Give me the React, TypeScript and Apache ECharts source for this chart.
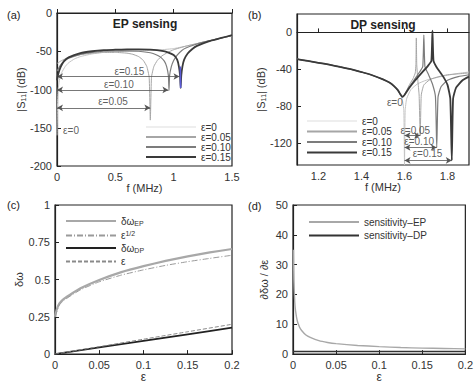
import React, { useEffect, useRef } from 'react';
import * as echarts from 'echarts';

// ---------- shared ----------
const epsNames = ['ε=0', 'ε=0.05', 'ε=0.10', 'ε=0.15'];

// ---------- panel (a): EP sensing, |S11| (dB) vs f (MHz) ----------
const aEps0: number[][] = [[0,-160],[0.005,-115],[0.01,-100],[0.02,-88],[0.04,-78],[0.07,-70],[0.1,-65],[0.15,-60],[0.2,-57],[0.3,-53.5],[0.4,-51.5],[0.5,-50.5],[0.6,-50],[0.7,-49.5],[0.8,-49],[0.9,-48],[1.0,-46.5],[1.1,-43.5],[1.2,-40],[1.3,-36.5],[1.4,-33],[1.5,-29.5]];
const aEps005: number[][] = [[0,-66],[0.03,-63],[0.07,-60],[0.1,-58],[0.2,-54.5],[0.3,-52.5],[0.4,-51.5],[0.5,-51.5],[0.6,-52.5],[0.65,-54],[0.7,-57],[0.74,-62],[0.77,-70],[0.79,-84],[0.8,-140],[0.81,-84],[0.83,-70],[0.86,-62],[0.9,-56],[0.95,-51.5],[1.0,-48],[1.1,-43.5],[1.2,-40],[1.3,-36.5],[1.4,-33],[1.5,-29.5]];
const aEps010: number[][] = [[0,-76],[0.03,-68],[0.07,-62],[0.1,-59],[0.2,-54],[0.3,-51.5],[0.4,-50],[0.5,-49.5],[0.6,-49.5],[0.7,-50],[0.8,-52],[0.85,-54.5],[0.89,-58],[0.92,-63],[0.94,-70],[0.955,-82],[0.96,-101],[0.965,-82],[0.98,-70],[1.0,-62],[1.03,-55],[1.07,-49],[1.1,-46],[1.2,-40.5],[1.3,-36.5],[1.4,-33],[1.5,-29.5]];
const aEps015: number[][] = [[0,-88],[0.01,-80],[0.03,-71],[0.06,-63],[0.1,-58],[0.2,-52.5],[0.3,-50],[0.4,-48.5],[0.5,-48],[0.6,-47.5],[0.7,-47.5],[0.8,-48],[0.9,-49.5],[0.95,-51.5],[1.0,-55],[1.03,-61],[1.045,-70],[1.055,-82],[1.06,-98],[1.065,-82],[1.075,-70],[1.09,-61],[1.12,-53],[1.16,-47],[1.2,-43],[1.3,-37],[1.4,-33],[1.5,-29]];
const aBlueDip: number[][] = [[1.057,-70],[1.06,-98]];
const aAnnoText = ['ε=0.15', 'ε=0.10', 'ε=0.05', 'ε=0'];
const aAnnoF = [0.62, 0.53, 0.48, 0.12];
const aAnnoS = [-77, -94, -116, -153];
const aArrowFrom = [0, 0, 0];
const aArrowTo = [1.05, 0.955, 0.8];
const aArrowS = [-83, -100.5, -124];

// ---------- panel (b): DP sensing ----------
const bEps0: number[][] = [[1.1,-29],[1.15,-31],[1.2,-33],[1.25,-35],[1.3,-37.5],[1.35,-40],[1.4,-43],[1.45,-46.5],[1.5,-51],[1.53,-54.5],[1.55,-58],[1.57,-63],[1.58,-67],[1.59,-73],[1.597,-85],[1.6,-144],[1.603,-85],[1.61,-72],[1.63,-62],[1.66,-56],[1.7,-52],[1.75,-49],[1.8,-46.5],[1.85,-44.5],[1.9,-43]];
const bEps005: number[][] = [[1.1,-29],[1.15,-31],[1.2,-33],[1.25,-35],[1.3,-37.5],[1.35,-40],[1.4,-43],[1.45,-46.5],[1.5,-51],[1.53,-54.5],[1.55,-58],[1.57,-63],[1.58,-67],[1.59,-70],[1.6,-68],[1.62,-58],[1.64,-50],[1.65,-44],[1.653,-35],[1.655,-6],[1.657,-35],[1.662,-52],[1.668,-68],[1.673,-112],[1.678,-68],[1.69,-57],[1.72,-51],[1.76,-48],[1.8,-46],[1.85,-45],[1.9,-44]];
const bEps010: number[][] = [[1.1,-29],[1.15,-31],[1.2,-33],[1.25,-35],[1.3,-37.5],[1.35,-40],[1.4,-43],[1.45,-46.5],[1.5,-51],[1.53,-54.5],[1.55,-58],[1.57,-63],[1.58,-67],[1.59,-70],[1.6,-68],[1.62,-60],[1.65,-50],[1.67,-43],[1.685,-37],[1.69,-3],[1.695,-37],[1.71,-45],[1.73,-56],[1.744,-70],[1.75,-125],[1.756,-70],[1.77,-59],[1.8,-52],[1.85,-48],[1.9,-46]];
const bEps015: number[][] = [[1.1,-29],[1.15,-31],[1.2,-33],[1.25,-35],[1.3,-37.5],[1.35,-40],[1.4,-43],[1.45,-46.5],[1.5,-51],[1.53,-54.5],[1.55,-58],[1.57,-63],[1.58,-67],[1.59,-70],[1.6,-68],[1.62,-61],[1.65,-52],[1.68,-44],[1.71,-36],[1.725,-31],[1.73,2],[1.735,-31],[1.75,-38],[1.78,-48],[1.8,-57],[1.813,-72],[1.82,-139],[1.826,-72],[1.84,-60],[1.87,-52],[1.9,-48]];
const bTicksX = [1.2, 1.4, 1.6, 1.8];
const bTicksY = [-120, -80, -40, 0];
const bAnnoText = ['ε=0', 'ε=0.05', 'ε=0.10', 'ε=0.15'];
const bAnnoF = [1.555, 1.65, 1.668, 1.707];
const bAnnoS = [-76, -106, -119, -132];
const bArrowFrom = [1.6, 1.6, 1.6];
const bArrowTo = [1.673, 1.75, 1.82];
const bArrowS = [-112, -125, -139];

// ---------- panel (c): δω vs ε ----------
const cEP: number[][] = [[0,0.25],[0.002,0.3],[0.005,0.34],[0.01,0.37],[0.02,0.41],[0.03,0.445],[0.05,0.497],[0.075,0.55],[0.1,0.59],[0.125,0.625],[0.15,0.655],[0.175,0.682],[0.2,0.705]];
const cSqrt: number[][] = [[0,0.25],[0.005,0.33],[0.01,0.36],[0.02,0.4],[0.03,0.435],[0.05,0.485],[0.075,0.53],[0.1,0.565],[0.125,0.595],[0.15,0.62],[0.175,0.642],[0.2,0.663]];
const cDP: number[][] = [[0,0],[0.05,0.045],[0.1,0.089],[0.15,0.133],[0.2,0.177]];
const cLin: number[][] = [[0,0],[0.05,0.05],[0.1,0.1],[0.15,0.15],[0.2,0.2]];

// ---------- panel (d): sensitivity ----------
const dEP: number[][] = [[0.0005,35],[0.001,25],[0.002,17.6],[0.003,14.4],[0.005,11.1],[0.0075,9.1],[0.01,7.9],[0.015,6.4],[0.02,5.6],[0.03,4.5],[0.04,3.9],[0.05,3.5],[0.075,2.9],[0.1,2.5],[0.125,2.2],[0.15,2.0],[0.175,1.9],[0.2,1.76]];
const dDP: number[][] = [[0,0.88],[0.05,0.88],[0.1,0.88],[0.15,0.88],[0.2,0.88]];

const FONT = '"Liberation Sans", Arial, Helvetica, sans-serif';
const epsColors = ['#c4c4c4', '#a6a6a6', '#7c7c7c', '#3a3a3a'];
const epsWidths = [1, 1, 1.2, 1.8];

function axisCommon() {
  return {
    axisLine: { show: true, lineStyle: { color: '#222', width: 1.2 } },
    axisTick: { show: true, inside: true, length: 4, lineStyle: { color: '#222' } },
    axisLabel: { fontSize: 11, color: '#333', fontFamily: FONT, margin: 5 },
    splitLine: { show: false },
    nameTextStyle: { fontSize: 11, color: '#333', fontFamily: FONT },
    nameLocation: 'middle' as const,
  };
}

function lineSeries(name: string, data: number[][], xi: number, color: string, width: number, type: any = 'solid', z = 2) {
  return {
    type: 'line', name, data, xAxisIndex: xi, yAxisIndex: xi, showSymbol: false, symbol: 'none',
    lineStyle: { color, width, type }, itemStyle: { color }, smooth: 0.15, z, silent: true,
  };
}

function annoSeries(name: string, xi: number, text: string[], fs: number[], ss: number[], from: number[], to: number[], ys: number[]) {
  return {
    type: 'scatter', name, xAxisIndex: xi, yAxisIndex: xi, symbolSize: 1,
    itemStyle: { color: 'rgba(0,0,0,0)' }, silent: true, z: 5,
    label: { show: true, position: 'inside', formatter: '{b}', fontSize: 10, color: '#333', fontFamily: FONT },
    labelLayout: { hideOverlap: false },
    data: text.map((t, i) => ({ name: t, value: [fs[i], ss[i]] })),
    markLine: {
      silent: true, symbol: ['arrow', 'arrow'], symbolSize: [5, 6], animation: false,
      lineStyle: { color: '#555', width: 0.8, type: 'solid' }, label: { show: false },
      data: from.map((f, i) => [{ coord: [f, ys[i]] }, { coord: [to[i], ys[i]] }]),
    },
  };
}

export default function App() {
  const ref = useRef<HTMLDivElement>(null);
  useEffect(() => {
    if (!ref.current) return;
    const chart = echarts.init(ref.current, undefined, { renderer: 'svg' });
    const grids = [
      { left: 57, top: 13, width: 175, height: 153 },
      { left: 297, top: 14, width: 172, height: 151 },
      { left: 55, top: 205, width: 177, height: 151 },
      { left: 293, top: 205, width: 175, height: 151 },
    ].map((g) => ({ ...g, show: true, borderColor: '#222', borderWidth: 1.2, backgroundColor: 'transparent' }));

    const c = axisCommon;
    const xAxis = [
      { ...c(), gridIndex: 0, type: 'value', min: 0, max: 1.5, interval: 0.5, name: 'f (MHz)', nameGap: 11 },
      { ...c(), gridIndex: 1, type: 'value', min: 1.1, max: 1.9, name: 'f (MHz)', nameGap: 11,
        axisTick: { ...c().axisTick, customValues: bTicksX },
        axisLabel: { ...c().axisLabel, customValues: bTicksX } },
      { ...c(), gridIndex: 2, type: 'value', min: 0, max: 0.2, interval: 0.05, name: 'ε', nameGap: 9,
        nameTextStyle: { fontSize: 12, color: '#333', fontFamily: FONT } },
      { ...c(), gridIndex: 3, type: 'value', min: 0, max: 0.2, interval: 0.05, name: 'ε', nameGap: 9,
        nameTextStyle: { fontSize: 12, color: '#333', fontFamily: FONT } },
    ];
    const yAxis = [
      { ...c(), gridIndex: 0, type: 'value', min: -200, max: 0, interval: 50, name: '|S₁₁| (dB)', nameGap: 31 },
      { ...c(), gridIndex: 1, type: 'value', min: -144, max: 20, name: '|S₁₁| (dB)', nameGap: 27,
        axisTick: { ...c().axisTick, customValues: bTicksY },
        axisLabel: { ...c().axisLabel, customValues: bTicksY } },
      { ...c(), gridIndex: 2, type: 'value', min: 0, max: 1, interval: 0.25, name: 'δω', nameGap: 28 },
      { ...c(), gridIndex: 3, type: 'value', min: 0, max: 50, interval: 10, name: '∂δω / ∂ε', nameGap: 24 },
    ];

    const aData = [aEps0, aEps005, aEps010, aEps015];
    const bData = [bEps0, bEps005, bEps010, bEps015];
    const series: any[] = [];
    aData.forEach((d, i) => series.push(lineSeries(epsNames[i], d, 0, epsColors[i], epsWidths[i], 'solid', 2 + i)));
    series.push({ ...lineSeries('blue-dip', aBlueDip, 0, '#5b5bd6', 1.6, 'solid', 7), smooth: false });
    series.push(annoSeries('annoA', 0, aAnnoText, aAnnoF, aAnnoS, aArrowFrom, aArrowTo, aArrowS));
    bData.forEach((d, i) => series.push(lineSeries(epsNames[i], d, 1, epsColors[i], epsWidths[i], 'solid', 2 + i)));
    series.push(annoSeries('annoB', 1, bAnnoText, bAnnoF, bAnnoS, bArrowFrom, bArrowTo, bArrowS));
    series.push(lineSeries('δωEP', cEP, 2, '#a8a8a8', 2.2));
    series.push(lineSeries('ε1/2', cSqrt, 2, '#9a9a9a', 1, [6, 2, 1, 2]));
    series.push(lineSeries('δωDP', cDP, 2, '#222', 1.8));
    series.push(lineSeries('ε', cLin, 2, '#8a8a8a', 1, [4, 2]));
    series.push(lineSeries('sensitivity–EP', dEP, 3, '#a8a8a8', 1.4));
    series.push(lineSeries('sensitivity–DP', dDP, 3, '#333', 1.6));

    const legendBase = {
      orient: 'vertical', itemWidth: 50, itemHeight: 10, selectedMode: false,
      itemStyle: { opacity: 0 },
      textStyle: { fontSize: 10, color: '#333', fontFamily: FONT },
    };
    const epsLegendData = epsNames.map((n, i) => (i === 0 ? { name: n, lineStyle: { color: '#eeeeee' } } : { name: n }));
    const cMap: Record<string, string> = {
      'δωEP': '{m|δω}{s|EP}', 'ε1/2': '{m|ε}{p|1/2}', 'δωDP': '{m|δω}{s|DP}', 'ε': '{m|ε}',
    };

    chart.setOption({
      animation: false,
      backgroundColor: '#fff',
      textStyle: { fontFamily: FONT },
      grid: grids,
      xAxis, yAxis, series,
      legend: [
        { ...legendBase, data: epsLegendData, left: 140, top: 117, itemGap: 0 },
        { ...legendBase, data: epsLegendData, left: 301, top: 111, itemGap: 0.5 },
        { ...legendBase, data: ['δωEP', 'ε1/2', 'δωDP', 'ε'], left: 60, top: 211, itemGap: 2.5,
          formatter: (n: string) => cMap[n] || n,
          textStyle: { fontSize: 10, color: '#333', fontFamily: FONT,
            rich: {
              m: { fontSize: 10, color: '#333', fontFamily: FONT },
              s: { fontSize: 7, color: '#333', fontFamily: FONT, verticalAlign: 'bottom', lineHeight: 12 },
              p: { fontSize: 7, color: '#333', fontFamily: FONT, verticalAlign: 'top', lineHeight: 12 },
            } } },
        { ...legendBase, data: ['sensitivity–EP', 'sensitivity–DP'], left: 303, top: 212, itemGap: 3.5 },
      ],
      graphic: [
        { type: 'text', x: 7, y: 15, style: { text: '(a)', fontSize: 11, fill: '#222', fontFamily: FONT, verticalAlign: 'middle' } },
        { type: 'text', x: 248, y: 15, style: { text: '(b)', fontSize: 11, fill: '#222', fontFamily: FONT, verticalAlign: 'middle' } },
        { type: 'text', x: 7, y: 205, style: { text: '(c)', fontSize: 11, fill: '#222', fontFamily: FONT, verticalAlign: 'middle' } },
        { type: 'text', x: 248, y: 206, style: { text: '(d)', fontSize: 11, fill: '#222', fontFamily: FONT, verticalAlign: 'middle' } },
        { type: 'text', x: 145, y: 24, style: { text: 'EP sensing', fontSize: 12, fontWeight: 'bold', fill: '#222', fontFamily: FONT, align: 'center', verticalAlign: 'middle' } },
        { type: 'text', x: 383, y: 25, style: { text: 'DP sensing', fontSize: 12, fontWeight: 'bold', fill: '#222', fontFamily: FONT, align: 'center', verticalAlign: 'middle' } },
      ],
    });
    return () => chart.dispose();
  }, []);
  return <div ref={ref} style={{ position: 'fixed', left: 0, top: 0, width: 476, height: 384, background: '#fff' }} />;
}
